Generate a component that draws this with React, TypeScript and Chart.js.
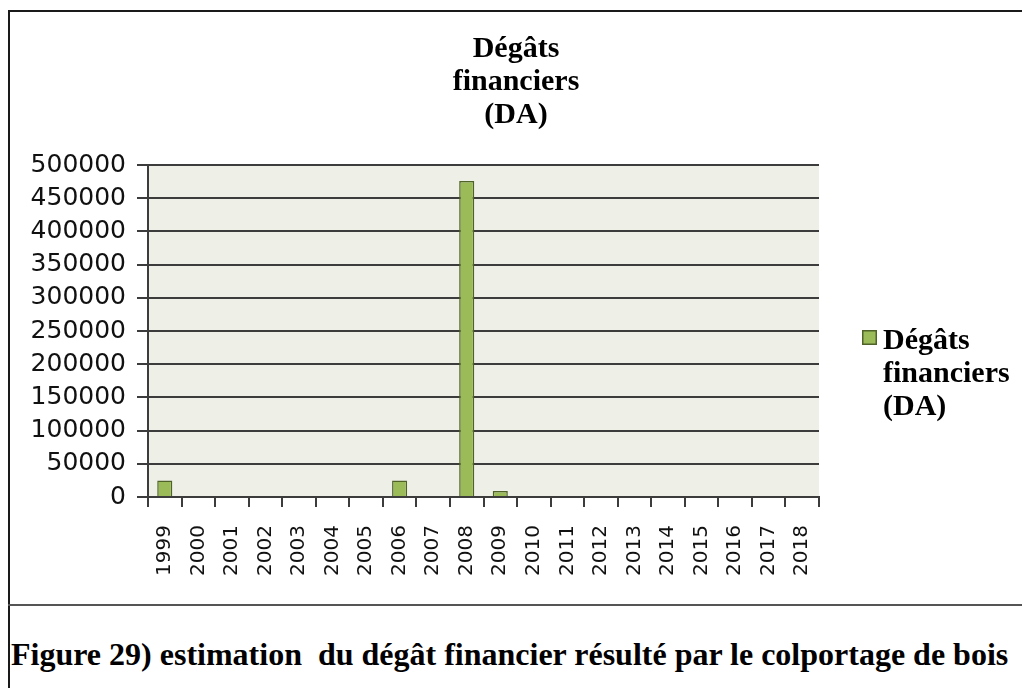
import React, { useEffect, useRef } from "react";
import { Chart, registerables } from "chart.js";

Chart.register(...registerables);

const years = [
  "1999", "2000", "2001", "2002", "2003", "2004", "2005", "2006", "2007", "2008",
  "2009", "2010", "2011", "2012", "2013", "2014", "2015", "2016", "2017", "2018",
];
const damages = [
  25000, 0, 0, 0, 0, 0, 0, 25000, 0, 476000,
  9000, 0, 0, 0, 0, 0, 0, 0, 0, 0,
];
const seriesLabel = "Dégâts financiers (DA)";
const titleLines = ["Dégâts", "financiers", "(DA)"];
const legendLines = ["Dégâts", "financiers", "(DA)"];
const yMin = 0;
const yMax = 500000;
const yStep = 50000;
const caption = "Figure 29) estimation  du dégât financier résulté par le colportage de bois";

const BAR_FILL = "#9BBB59";
const BAR_BORDER = "#4F6228";
const GRID = "#3c3c3c";
const PLOT_BG = "#EEF0E8";

const serifBold = "bold 30px 'Liberation Serif', 'Times New Roman', serif";

const bgPlugin = {
  id: "plotBg",
  beforeDraw(chart: any) {
    const { ctx, chartArea } = chart;
    if (!chartArea) return;
    ctx.save();
    ctx.fillStyle = PLOT_BG;
    ctx.fillRect(chartArea.left, chartArea.top, chartArea.right - chartArea.left, chartArea.bottom - chartArea.top);
    ctx.restore();
  },
};

const titlePlugin = {
  id: "multiTitle",
  afterDraw(chart: any) {
    const { ctx } = chart;
    ctx.save();
    ctx.font = serifBold;
    ctx.fillStyle = "#000";
    ctx.textAlign = "center";
    ctx.textBaseline = "alphabetic";
    const cx = chart.width / 2;
    titleLines.forEach((line, i) => {
      ctx.fillText(line, cx, 45 + i * 33);
    });
    ctx.restore();
  },
};

const legendPlugin = {
  id: "sideLegend",
  afterDraw(chart: any) {
    const { ctx, chartArea } = chart;
    const x0 = chartArea.right + 43;
    const y0 = chartArea.top + 165;
    ctx.save();
    ctx.fillStyle = BAR_FILL;
    ctx.strokeStyle = BAR_BORDER;
    ctx.lineWidth = 1.5;
    ctx.fillRect(x0, y0, 15, 15);
    ctx.strokeRect(x0 + 0.75, y0 + 0.75, 13.5, 13.5);
    ctx.font = serifBold;
    ctx.fillStyle = "#000";
    ctx.textAlign = "left";
    ctx.textBaseline = "alphabetic";
    legendLines.forEach((line, i) => {
      ctx.fillText(line, x0 + 21, y0 + 19 + i * 33);
    });
    ctx.restore();
  },
};

function ChartCanvas() {
  const ref = useRef<HTMLCanvasElement | null>(null);
  useEffect(() => {
    if (!ref.current) return;
    const chart = new Chart(ref.current, {
      type: "bar",
      data: {
        labels: years,
        datasets: [
          {
            label: seriesLabel,
            data: damages,
            backgroundColor: BAR_FILL,
            borderColor: BAR_BORDER,
            borderWidth: 1.5,
            categoryPercentage: 1,
            barPercentage: 0.45,
          },
        ],
      },
      options: {
        animation: false,
        responsive: false,
        maintainAspectRatio: false,
        layout: { padding: { top: 153, right: 203, left: 0, bottom: 0 } },
        plugins: {
          legend: { display: false },
          title: { display: false },
          tooltip: { enabled: false },
        },
        scales: {
          x: {
            afterFit: (s: any) => {
              s.height = 105;
            },
            grid: {
              offset: true,
              drawOnChartArea: false,
              drawTicks: true,
              tickLength: 10,
              color: GRID,
              lineWidth: 2,
            },
            border: { display: true, color: GRID, width: 2 },
            ticks: {
              autoSkip: false,
              minRotation: 90,
              maxRotation: 90,
              padding: 18,
              color: "#111",
              font: { family: "'DejaVu Sans', sans-serif", size: 20 },
            },
          },
          y: {
            min: yMin,
            max: yMax,
            afterFit: (s: any) => {
              s.width = 138;
            },
            grid: {
              drawTicks: true,
              tickLength: 11,
              color: GRID,
              lineWidth: 2,
            },
            border: { display: true, color: GRID, width: 2 },
            ticks: {
              stepSize: yStep,
              padding: 11,
              color: "#111",
              font: { family: "'DejaVu Sans', sans-serif", size: 25 },
              callback: (v: any) => String(v),
            },
          },
        },
      },
      plugins: [bgPlugin, titlePlugin, legendPlugin],
    });
    return () => chart.destroy();
  }, []);
  return (
    <canvas
      ref={ref}
      width={1012}
      height={590}
      style={{ position: "absolute", left: 10, top: 12, width: 1012, height: 590 }}
    />
  );
}

export default function App() {
  return (
    <div style={{ position: "absolute", left: 0, top: 0, width: 1022, height: 688, background: "#fff", overflow: "hidden" }}>
      <div style={{ position: "absolute", left: 8, top: 10, width: 1014, height: 2, background: "#1a1a1a" }} />
      <div style={{ position: "absolute", left: 8, top: 10, width: 2, height: 678, background: "#1a1a1a" }} />
      <div style={{ position: "absolute", left: 8, top: 604, width: 1014, height: 2, background: "#555" }} />
      <ChartCanvas />
      <div
        style={{
          position: "absolute",
          left: 11,
          top: 638,
          whiteSpace: "pre",
          fontFamily: "'Liberation Serif', 'Times New Roman', serif",
          fontWeight: "bold",
          fontSize: 32,
          lineHeight: "32px",
          color: "#000",
        }}
      >
        {caption}
      </div>
    </div>
  );
}
